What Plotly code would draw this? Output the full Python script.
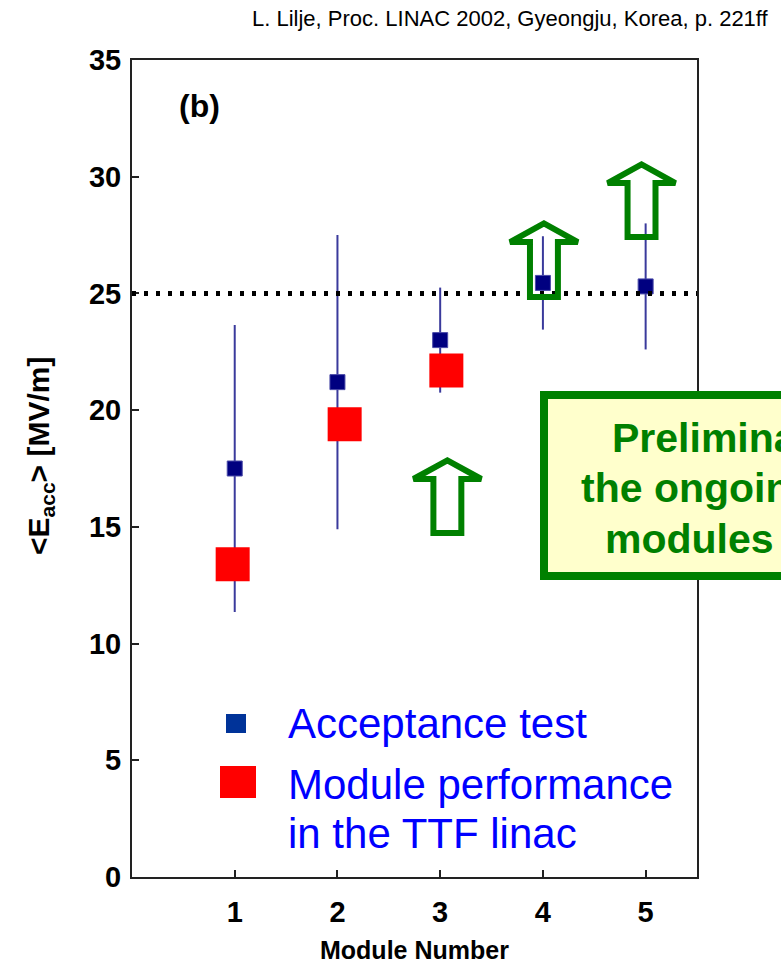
import plotly.graph_objects as go

# ---- data ----
modules = [1, 2, 3, 4, 5]
acceptance = [17.5, 21.2, 23.0, 25.45, 25.3]
acceptance_err = [6.15, 6.3, 2.25, 2.0, 2.7]

perf_x = [0.98, 2.07, 3.06]
performance = [13.4, 19.4, 21.7]

target_gradient = 25

arrow_x = [3.07, 4.01, 4.96]
arrow_tip = [17.85, 28.0, 30.53]
arrow_base = [14.74, 24.85, 27.42]

x_ticks = [1, 2, 3, 4, 5]
y_ticks = [0, 5, 10, 15, 20, 25, 30, 35]

FONT = "Liberation Sans, Arial, sans-serif"
GREEN = "#008000"

# ---- layout geometry helpers (pixel -> paper) ----
L, R, T, B = 132, 84, 60, 87
W, H = 781, 964
PW, PH = W - L - R, H - T - B


def px(x):
    return (x - L) / PW


def py(y):
    return (H - B - y) / PH


fig = go.Figure()

fig.add_trace(go.Scatter(
    x=modules, y=acceptance, mode="markers", name="Acceptance test",
    error_y=dict(type="data", array=acceptance_err, visible=True,
                 color="#3a3a9c", thickness=2, width=0),
    marker=dict(symbol="square", size=15, color="#000080",
                line=dict(color="#4a4aa8", width=1)),
    showlegend=False,
))
fig.add_trace(go.Scatter(
    x=perf_x, y=performance, mode="markers",
    name="Module performance in the TTF linac",
    marker=dict(symbol="square", size=34, color="#ff0000", line=dict(width=0)),
    showlegend=False,
))

shapes = []
# dotted 25 MV/m line
shapes.append(dict(type="line", xref="paper", yref="y", x0=0, x1=1,
                   y0=target_gradient, y1=target_gradient,
                   line=dict(color="black", width=5, dash="4px,8px"),
                   layer="above"))

# hollow up-arrows
HW, SW, HH = 0.33, 0.136, 0.8
for cx, ty, by in zip(arrow_x, arrow_tip, arrow_base):
    hy = ty - HH
    path = (f"M {cx-SW},{by} L {cx+SW},{by} L {cx+SW},{hy} L {cx+HW},{hy} "
            f"L {cx},{ty} L {cx-HW},{hy} L {cx-SW},{hy} Z")
    shapes.append(dict(type="path", xref="x", yref="y", path=path,
                       line=dict(color=GREEN, width=6),
                       fillcolor="rgba(0,0,0,0)", layer="above"))

# preliminary box
shapes.append(dict(type="rect", xref="paper", yref="paper",
                   x0=px(544), x1=px(1000), y0=py(576), y1=py(395),
                   line=dict(color=GREEN, width=8), fillcolor="#ffffcc",
                   layer="above"))

# legend swatches
shapes.append(dict(type="rect", xref="paper", yref="paper",
                   x0=px(226), x1=px(246), y0=py(733), y1=py(714),
                   line=dict(width=0), fillcolor="#003399", layer="above"))
shapes.append(dict(type="rect", xref="paper", yref="paper",
                   x0=px(220), x1=px(256), y0=py(798), y1=py(766),
                   line=dict(width=0), fillcolor="#ff0000", layer="above"))

annotations = []


def ann(text, x, y, size, color="black", bold=False, xanchor="center",
        angle=0):
    annotations.append(dict(
        text=text, x=x, y=y, xref="paper", yref="paper", showarrow=False,
        xanchor=xanchor, yanchor="middle", textangle=angle,
        font=dict(family=FONT, size=size, color=color,
                  weight="bold" if bold else "normal")))


ann("L. Lilje, Proc. LINAC 2002, Gyeongju, Korea, p. 221ff",
    px(771), py(19), 22, xanchor="right")
ann("(b)", px(199), py(106), 32, bold=True)
ann("&lt;E<sub>acc</sub>&gt; [MV/m]", px(40), py(456), 30, bold=True,
    angle=-90)
ann("Module Number", 0.5, py(950), 25, bold=True)

ann("Acceptance test", px(286), py(723), 42, color="#0000ff", xanchor="left")
ann("Module performance", px(286), py(784), 42, color="#0000ff",
    xanchor="left")
ann("in the TTF linac", px(286), py(833), 42, color="#0000ff",
    xanchor="left")

ann("Preliminary results from", px(610), py(438), 41, color=GREEN,
    bold=True, xanchor="left")
ann("the ongoing tests of", px(579), py(488), 41, color=GREEN, bold=True,
    xanchor="left")
ann("modules 4 and 5", px(603), py(539), 41, color=GREEN, bold=True,
    xanchor="left")

axis_common = dict(
    showline=True, mirror=True, linecolor="#222222", linewidth=2,
    ticks="inside", ticklen=7, tickwidth=1.5, tickcolor="#222222",
    showgrid=False, zeroline=False,
    tickfont=dict(family=FONT, size=29, color="black", weight="bold"),
)

fig.update_layout(
    width=W, height=H,
    margin=dict(l=L, r=R, t=T, b=B, pad=0),
    paper_bgcolor="white", plot_bgcolor="white",
    xaxis=dict(range=[0, 5.5], tickvals=x_ticks, ticklabelstandoff=8,
               **axis_common),
    yaxis=dict(range=[0, 35], tickvals=y_ticks, ticklabelstandoff=3,
               **axis_common),
    shapes=shapes,
    annotations=annotations,
    showlegend=False,
)

fig.write_html("out.html")
